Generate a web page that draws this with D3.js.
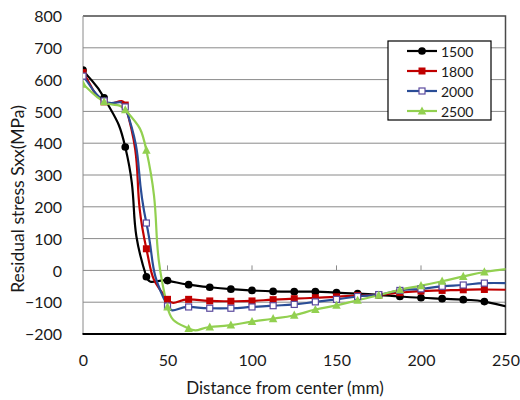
<!DOCTYPE html>
<html>
<head>
<meta charset="utf-8">
<script src="https://cdn.jsdelivr.net/npm/d3@7"></script>
<style>
  html, body { margin: 0; padding: 0; background: #fff; }
  svg { display: block; }
  text { font-family: Lato, "Open Sans", sans-serif; fill: #1a1a1a; }
</style>
</head>
<body>
<svg id="chart" width="520" height="400"></svg>
<script>
// Distance from center (mm); the last point lies past the axis end and is clipped
const distance = [0, 12.5, 25, 37.5, 50, 62.5, 75, 87.5, 100, 112.5, 125, 137.5, 150,
                  162.5, 175, 187.5, 200, 212.5, 225, 237.5, 262.5];

// Residual stress Sxx (MPa) for each case
const s1500 = [630, 543, 388, -20, -32, -45, -53, -59, -63, -66, -67, -67, -70,
               -73, -77, -82, -86, -89, -92, -98, -130];
const s1800 = [622, 530, 520, 68, -91, -91, -96, -97, -96, -92, -89, -86, -83,
               -79, -77, -70, -65, -63, -61, -60, -62];
const s2000 = [611, 533, 514, 149, -112, -115, -119, -119, -115, -111, -107, -99, -91,
               -82, -76, -63, -58, -50, -46, -40, -42];
const s2500 = [585, 530, 505, 378, -115, -183, -178, -172, -161, -152, -141, -123, -110,
               -94, -78, -61, -48, -34, -19, -5, 12];

const seriesNames = ["1500", "1800", "2000", "2500"];
const seriesColors = ["#000000", "#c00000", "#2a4d96", "#92d050"];
const seriesMarkers = ["circle", "filledSquare", "openSquare", "triangle"];

const xTicks = [0, 50, 100, 150, 200, 250];
const yTicks = [-200, -100, 0, 100, 200, 300, 400, 500, 600, 700, 800];

const xTitle = "Distance from center (mm)";
const yTitle = "Residual stress Sxx(MPa)";

const svg = d3.select("#chart");
const margin = { left: 83, right: 14.5, top: 16, bottom: 66 };
const W = 520, H = 400;

const x = d3.scaleLinear().domain([0, 250]).range([margin.left, W - margin.right]);
const y = d3.scaleLinear().domain([-200, 800]).range([H - margin.bottom, margin.top]);

const series = [s1500, s1800, s2000, s2500].map((vals, i) => ({
  name: seriesNames[i],
  color: seriesColors[i],
  marker: seriesMarkers[i],
  points: distance.map((d, j) => ({ x: d, y: vals[j] }))
}));

// Smoothing curve: tangent follows the neighbouring points, and each Bezier
// handle is scaled to the length of its own segment so short segments stay tight.
function smoothCurve(context) { this._context = context; }
smoothCurve.prototype = {
  areaStart() {}, areaEnd() {},
  lineStart() { this._pts = []; },
  point(px, py) { this._pts.push([+px, +py]); },
  lineEnd() {
    const p = this._pts, n = p.length, c = this._context, k = 0.5;
    if (!n) return;
    c.moveTo(p[0][0], p[0][1]);
    const tan = i => {
      const a = p[Math.max(0, i - 1)], b = p[Math.min(n - 1, i + 1)];
      const dx = b[0] - a[0], dy = b[1] - a[1], L = Math.hypot(dx, dy) || 1;
      return [dx / L, dy / L];
    };
    for (let i = 0; i < n - 1; i++) {
      const a = p[i], b = p[i + 1];
      const len = Math.hypot(b[0] - a[0], b[1] - a[1]);
      const t1 = tan(i), t2 = tan(i + 1);
      c.bezierCurveTo(
        a[0] + t1[0] * len * k, a[1] + t1[1] * len * k,
        b[0] - t2[0] * len * k, b[1] - t2[1] * len * k,
        b[0], b[1]);
    }
  }
};
const curveSmooth = ctx => new smoothCurve(ctx);

svg.append("defs").append("clipPath").attr("id", "plotClip")
  .append("rect")
  .attr("x", x(0)).attr("y", y(800) - 6)
  .attr("width", x(250) - x(0)).attr("height", y(-200) - y(800) + 12);

// Horizontal gridlines
svg.append("g")
  .selectAll("line")
  .data(yTicks.filter(t => t > -200 && t < 800))
  .join("line")
  .attr("x1", x(0)).attr("x2", x(250))
  .attr("y1", d => y(d)).attr("y2", d => y(d))
  .attr("stroke", "#8a8a8a").attr("stroke-width", 1);

// Plot frame: top and right edges
svg.append("path")
  .attr("d", `M${x(0)},${y(800)}H${x(250)}V${y(-200)}`)
  .attr("fill", "none").attr("stroke", "#4a4a4a").attr("stroke-width", 1.5);

// Vertical axis line
svg.append("line")
  .attr("x1", x(0)).attr("x2", x(0))
  .attr("y1", y(800)).attr("y2", y(-200))
  .attr("stroke", "#8a8a8a").attr("stroke-width", 1);

// Bottom edge
svg.append("line")
  .attr("x1", x(0) - 0.5).attr("x2", x(250) + 0.75)
  .attr("y1", y(-200)).attr("y2", y(-200))
  .attr("stroke", "#000").attr("stroke-width", 2);

// Horizontal axis crosses at zero, ticks point up from it
svg.append("g")
  .selectAll("line")
  .data(xTicks.filter(t => t > 0 && t < 250))
  .join("line")
  .attr("x1", d => x(d)).attr("x2", d => x(d))
  .attr("y1", y(0)).attr("y2", y(0) - 5)
  .attr("stroke", "#8a8a8a").attr("stroke-width", 1);

// Y tick labels
const yAxis = d3.axisLeft(y).tickValues(yTicks).tickSize(0).tickPadding(0);
const gy = svg.append("g").attr("transform", `translate(${margin.left - 21},0)`).call(yAxis);
gy.select(".domain").remove();
gy.selectAll("text")
  .attr("font-family", "Lato, 'Open Sans', sans-serif")
  .attr("font-size", 16).attr("fill", "#1a1a1a").attr("dy", "0.36em");

// X tick labels along the bottom
const xAxis = d3.axisBottom(x).tickValues(xTicks).tickSize(0).tickPadding(0);
const gx = svg.append("g").attr("transform", `translate(0,${y(-200) + 21})`).call(xAxis);
gx.select(".domain").remove();
gx.selectAll("text")
  .attr("font-family", "Lato, 'Open Sans', sans-serif")
  .attr("font-size", 16).attr("fill", "#1a1a1a").attr("dy", "0.71em");

// Axis titles
svg.append("text")
  .attr("x", 285).attr("y", 387)
  .attr("text-anchor", "middle").attr("dominant-baseline", "central")
  .attr("font-size", 17)
  .text(xTitle);

svg.append("text")
  .attr("transform", "translate(17,199) rotate(-90)")
  .attr("text-anchor", "middle").attr("dominant-baseline", "central")
  .attr("font-size", 17.5)
  .text(yTitle);

// Series lines
const line = d3.line()
  .x(d => x(d.x)).y(d => y(d.y))
  .curve(curveSmooth);

const plot = svg.append("g").attr("clip-path", "url(#plotClip)");

function drawMarker(g, type, color, size) {
  if (type === "circle") {
    g.append("circle").attr("r", size * 0.55).attr("fill", color);
  } else if (type === "filledSquare") {
    g.append("rect").attr("x", -size / 2).attr("y", -size / 2)
      .attr("width", size).attr("height", size).attr("fill", color);
  } else if (type === "openSquare") {
    const s = size - 1;
    g.append("rect").attr("x", -s / 2).attr("y", -s / 2)
      .attr("width", s).attr("height", s)
      .attr("fill", "#ffffff").attr("stroke", "#5b4a9e").attr("stroke-width", 1.2);
  } else {
    const s = size * 1.1;
    g.append("path")
      .attr("d", `M0,${-s * 0.6}L${s * 0.55},${s * 0.45}L${-s * 0.55},${s * 0.45}Z`)
      .attr("fill", color);
  }
}

series.forEach(s => {
  plot.append("path")
    .datum(s.points)
    .attr("d", line)
    .attr("fill", "none")
    .attr("stroke", s.color)
    .attr("stroke-width", 2.2);
});

series.forEach(s => {
  const mg = plot.append("g");
  s.points.filter(p => p.x <= 250).forEach(p => {
    const g = mg.append("g").attr("transform", `translate(${x(p.x)},${y(p.y)})`);
    drawMarker(g, s.marker, s.color, 7);
  });
});

// Legend
const legend = svg.append("g");
legend.append("rect")
  .attr("x", 388).attr("y", 41).attr("width", 103).attr("height", 79)
  .attr("fill", "#fff").attr("stroke", "#000").attr("stroke-width", 1.2);

series.forEach((s, i) => {
  const ly = 51 + i * 20;
  legend.append("line")
    .attr("x1", 407).attr("x2", 437).attr("y1", ly).attr("y2", ly)
    .attr("stroke", s.color).attr("stroke-width", 2.2);
  const g = legend.append("g").attr("transform", `translate(422,${ly})`);
  drawMarker(g, s.marker, s.color, 7);
  legend.append("text")
    .attr("x", 441).attr("y", ly)
    .attr("dominant-baseline", "central")
    .attr("font-size", 14)
    .text(s.name);
});
</script>
</body>
</html>
